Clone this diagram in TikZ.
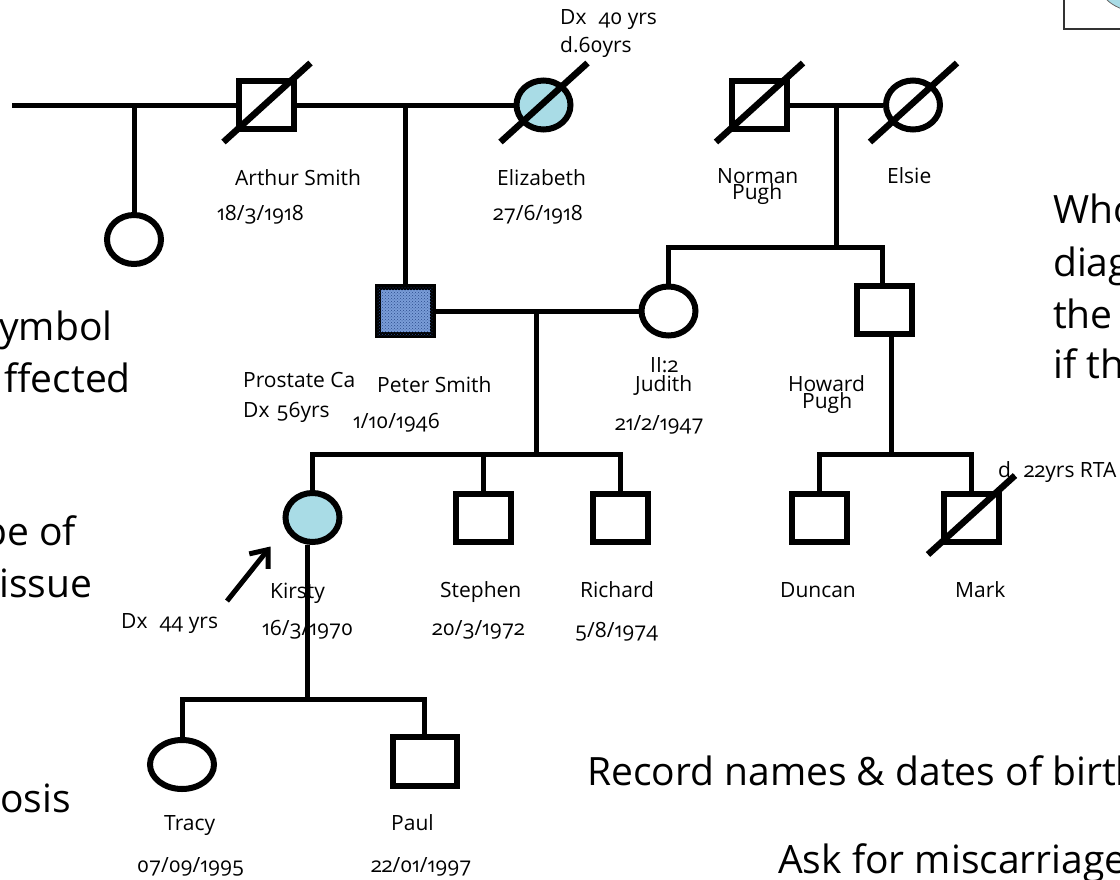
\documentclass[tikz,border=0pt]{standalone}
\usepackage{fontspec}
\setmainfont{Open Sans}[Numbers=OldStyle]
\usetikzlibrary{shapes.geometric,arrows.meta,patterns}

\definecolor{affcyan}{HTML}{A9DCE6}
\definecolor{affblue}{HTML}{7A9DD8}
\definecolor{affnavy}{HTML}{2B4C8C}

% soft grey vignette of the slide background
\pgfdeclareradialshading{slidevignette}{\pgfpoint{0bp}{0bp}}{%
  color(0bp)=(white); color(46bp)=(white); color(72bp)=(black!10)}

\tikzset{
  pline/.style={line width=5pt},
  male/.style={draw, line width=6pt, rectangle, minimum width=55pt,
    minimum height=48pt, inner sep=0pt},
  female/.style={draw, line width=6pt, ellipse, minimum width=54pt,
    minimum height=49pt, inner sep=0pt},
  slash/.style={line width=6.5pt},
  lbl/.style={font=\fontsize{21}{21}\selectfont, inner sep=0pt, anchor=base west},
  big/.style={font=\fontsize{39}{39}\selectfont, inner sep=0pt},
}
\newcommand\deadmark[1]{\draw[slash] ([shift={(-43,37)}]#1.center) -- ([shift={(44,-42)}]#1.center);}

\begin{document}
\begin{tikzpicture}[x=1pt,y=-1pt]
\useasboundingbox (0,0) rectangle (1120,879);
\shade[shading=slidevignette] (0,0) rectangle (1120,879);

% corner of a legend box at the top right
\filldraw[fill=affcyan, draw=black!60, line width=0.8pt] (1135,-30) circle (41);
\draw[black!80, line width=1.2pt] (1064,-5) rectangle (1135,29);

% ---- generation I ----
\node[female] (unk) at (134,239.5) {};
\node[male] (arthur) at (266.5,105) {};
\node[female, fill=affcyan] (eliz) at (543.5,105) {};
\node[male] (norman) at (759,105) {};
\node[female] (elsie) at (913,105) {};

% ---- generation II ----
\node[male, fill=affblue, postaction={pattern=crosshatch dots, pattern color=affnavy}] (peter) at (405,311) {};
\node[female] (judith) at (668.5,311) {};
\node[male] (howard) at (884,310) {};

% ---- generation III ----
\node[female, fill=affcyan] (kirsty) at (312.5,517.5) {};
\node[male] (stephen) at (483,517.5) {};
\node[male] (richard) at (620,517.5) {};
\node[male] (duncan) at (819,517.5) {};
\node[male] (mark) at (971,517.5) {};

% ---- generation IV ----
\node[female, minimum width=64pt] (tracy) at (182,764.5) {};
\node[male, minimum width=64pt, minimum height=49pt] (paul) at (424.5,761) {};

% deceased
\deadmark{arthur}
\deadmark{eliz}
\deadmark{norman}
\deadmark{elsie}
\deadmark{mark}

% ---- lines of descent ----
\coordinate (leftend) at (12,105);
\draw[pline] (leftend) -- (arthur.west);
\draw[pline] (unk.north |- leftend) -- (unk.north);
\draw[pline] (arthur.east) -- (eliz.west);
\draw[pline] (peter.north |- arthur.east) -- (peter.north);

\draw[pline] (norman.east) -- (elsie.west);
\coordinate (np) at (836,105);
\coordinate (npsib) at (836,247);
\draw[pline] (np) -- (npsib);
\draw[pline] (judith.north) |- (npsib) -| ([xshift=-2pt]howard.north);

\draw[pline] (peter.east) -- (judith.west);
\coordinate (pj) at (536,311);
\coordinate (pjsib) at (536,454);
\draw[pline] (pj) -- (pjsib);
\draw[pline] (kirsty.north) |- (pjsib) -| (richard.north);
\draw[pline] (stephen.north) -- (stephen.north |- pjsib);

\coordinate (hsib) at (891,454);
\draw[pline] ([xshift=7pt]howard.south) -- (hsib);
\draw[pline] (duncan.north) |- (hsib) -| (mark.north);

\coordinate (ksib) at (307.5,699);
\draw[pline] ([xshift=-5pt]kirsty.south) -- (ksib);
\draw[pline] (tracy.north) |- (ksib) -| (paul.north);

% proband arrow
\coordinate (arrtail) at (227,601);
\draw[pline, -{Straight Barb[length=15pt,width=24pt]}] (arrtail) -- ([shift={(-42,29)}]kirsty.center);

% ---- labels ----
\node[lbl] (l1) at (560,24) {Dx\hspace{12pt}40 yrs};
\node[lbl] (l2) at (560,52) {d.60yrs};
\node[lbl] (l3) at (235,185) {Arthur Smith};
\node[lbl] (l4) at (217,220) {18/3/1918};
\node[lbl] (l5) at (497,185) {Elizabeth};
\node[lbl] (l6) at (493,220) {27/6/1918};
\node[lbl] (l7) at (717,183) {Norman};
\node[lbl] (l8) at (732,199) {Pugh};
\node[lbl] (l9) at (887,183) {Elsie};
\node[lbl] (l10) at (243,387) {Prostate Ca};
\node[lbl] (l11) at (243,417) {Dx\hspace{7pt}56yrs};
\node[lbl] (l12) at (377,392) {Peter Smith};
\node[lbl] (l13) at (353,428) {1/10/1946};
\node[lbl] (l14) at (650,372) {II:2};
\node[lbl] (l15) at (635,391) {Judith};
\node[lbl] (l16) at (615,430) {21/2/1947};
\node[lbl] (l17) at (788,391) {Howard};
\node[lbl] (l18) at (802,408) {Pugh};
\node[lbl] (l19) at (998,477) {d. 22yrs RTA};
\node[lbl] (l20) at (270,598) {Kirsty};
\node[lbl] (l21) at (262,635) {16/3/1970};
\node[lbl] (l22) at (121,628) {Dx\hspace{12pt}44 yrs};
\node[lbl] (l23) at (440,597) {Stephen};
\node[lbl] (l24) at (432,635) {20/3/1972};
\node[lbl] (l25) at (580,597) {Richard};
\node[lbl] (l26) at (575,637) {5/8/1974};
\node[lbl] (l27) at (780,597) {Duncan};
\node[lbl] (l28) at (955,597) {Mark};
\node[lbl] (l29) at (164,830) {Tracy};
\node[lbl] (l30) at (137,872) {07/09/1995};
\node[lbl] (l31) at (391,830) {Paul};
\node[lbl] (l32) at (371,872) {22/01/1997};

% ---- slide text running past the edges ----
\node[big, anchor=base west] (t1) at (-1,340) {ymbol};
\node[big, anchor=base east] (t2) at (131,392) {ffected};
\node[big, anchor=base east] (t3) at (76,545) {pe of};
\node[big, anchor=base west] (t4) at (-1,597) {issue};
\node[big, anchor=base east] (t5) at (71,812) {nosis};
\node[big, anchor=base west] (t6) at (1053,223) {Who};
\node[big, anchor=base west] (t7) at (1053,276) {diag};
\node[big, anchor=base west] (t8) at (1053,328) {the};
\node[big, anchor=base west] (t9) at (1053,378) {if th};
\node[big, anchor=base west] (t10) at (587,785) {Record names \& dates of birth};
\node[big, anchor=base west] (t11) at (778,873) {Ask for miscarriage};
\end{tikzpicture}
\end{document}
